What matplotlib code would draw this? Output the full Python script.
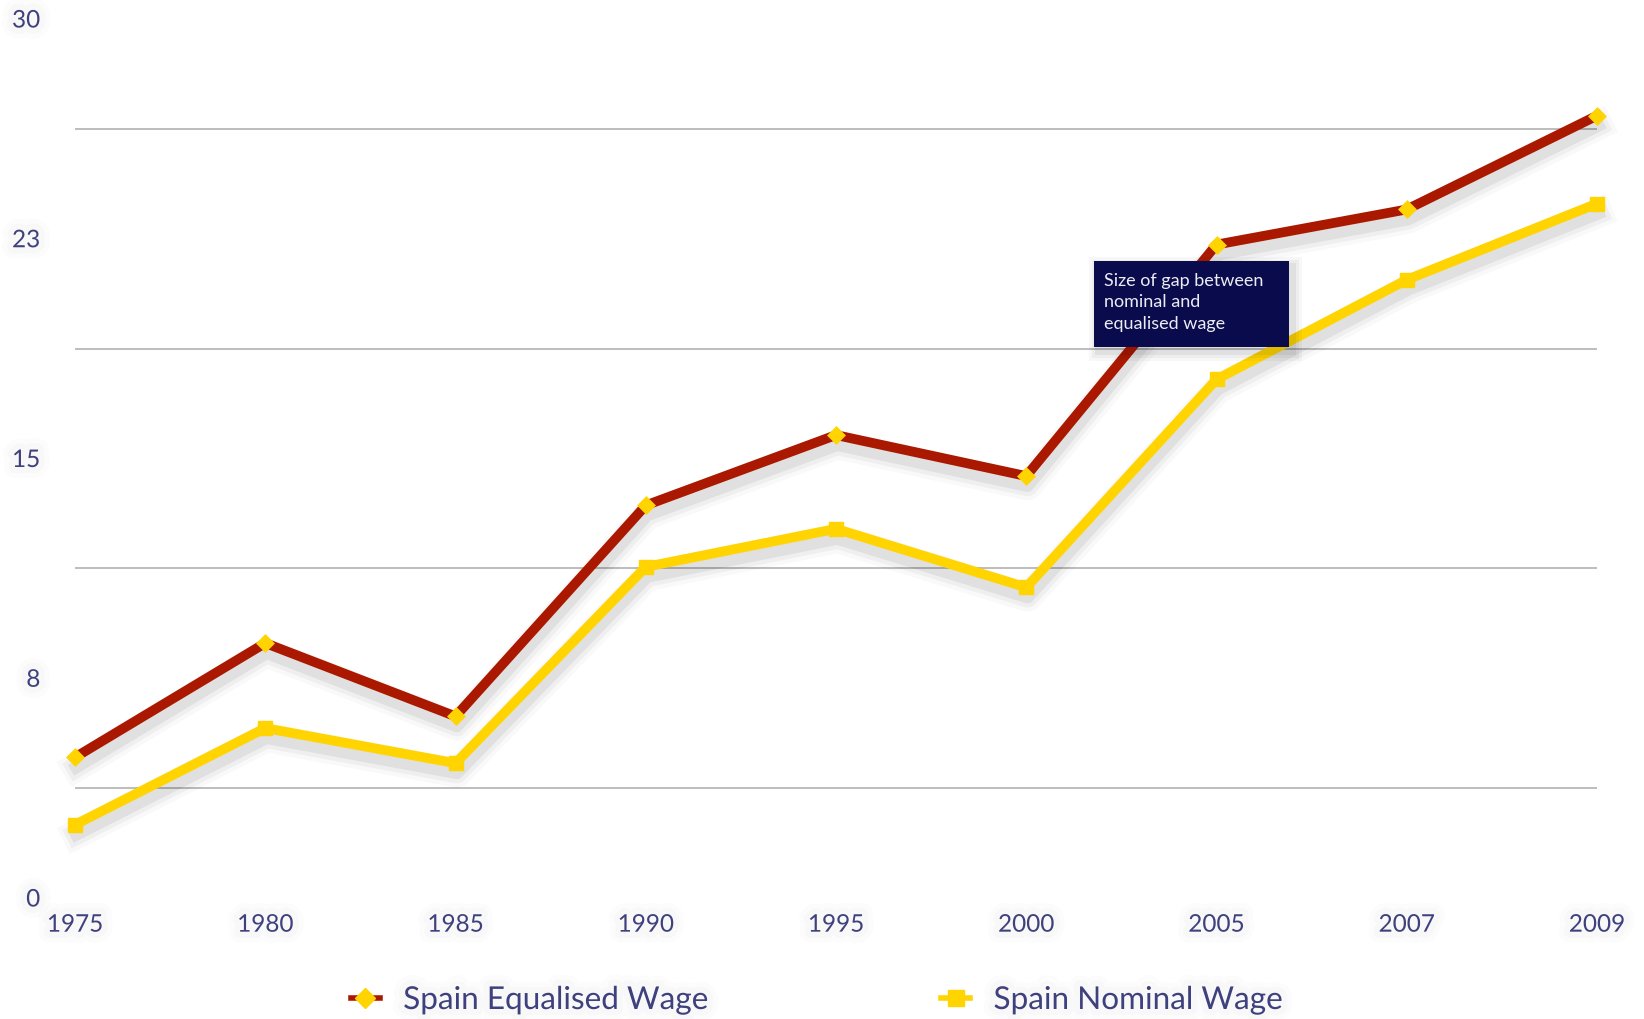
import matplotlib
matplotlib.use("Agg")
import matplotlib.pyplot as plt
import matplotlib.patheffects as pe
from matplotlib.lines import Line2D
from matplotlib.patches import Rectangle

# ---- data ----
years = ["1975", "1980", "1985", "1990", "1995", "2000", "2005", "2007", "2009"]
equalised_wage = [4.8, 8.7, 6.2, 13.4, 15.8, 14.4, 22.3, 23.5, 26.7]
nominal_wage = [2.5, 5.8, 4.6, 11.3, 12.6, 10.6, 17.7, 21.1, 23.7]
y_tick_values = [0, 7.5, 15, 22.5, 30]
y_tick_labels = ["0", "8", "15", "23", "30"]
grid_values = [3.75, 11.25, 18.75, 26.25]
series_names = ["Spain Equalised Wage", "Spain Nominal Wage"]
tooltip_text = "Size of gap between\nnominal and\nequalised wage"

RED = "#AA1800"
YELLOW = "#FFD400"
TXT = "#3e417d"
FONT = ["Lato", "DejaVu Sans"]

plt.rcParams["font.family"] = FONT

W, H = 1644, 1019
fig = plt.figure(figsize=(W / 100, H / 100), dpi=100)
fig.patch.set_facecolor("white")
ax = fig.add_axes([75 / W, (H - 898) / H, 1522 / W, 879 / H])
ax.set_xlim(0, len(years) - 1)
ax.set_ylim(0, 30)
for s in ax.spines.values():
    s.set_visible(False)

x = list(range(len(years)))

def shadow(lw):
    return [
        pe.Stroke(offset=(1, -7), linewidth=lw + 14, foreground="black", alpha=0.025),
        pe.Stroke(offset=(1, -7), linewidth=lw + 8, foreground="black", alpha=0.04),
        pe.Stroke(offset=(1, -7), linewidth=lw + 2, foreground="black", alpha=0.06),
        pe.Normal(),
    ]

LW = 7
ax.plot(x, nominal_wage, color=YELLOW, lw=LW, clip_on=False, zorder=3,
        path_effects=shadow(LW))
ax.plot(x, equalised_wage, color=RED, lw=LW, clip_on=False, zorder=4,
        path_effects=shadow(LW))
ax.plot(x, nominal_wage, ls="none", marker="s", ms=9.5, mfc=YELLOW, mec=YELLOW,
        clip_on=False, zorder=5)
ax.plot(x, equalised_wage, ls="none", marker="D", ms=7.5, mfc=YELLOW, mec=YELLOW,
        mew=2.5, clip_on=False, zorder=6)

glow = [pe.Stroke(linewidth=16, foreground="black", alpha=0.012),
        pe.Stroke(linewidth=9, foreground="black", alpha=0.015),
        pe.Normal()]

ax.set_xticks(x)
ax.set_xticklabels(years, fontsize=17.5, color=TXT)
ax.set_yticks(y_tick_values)
ax.set_yticklabels(y_tick_labels, fontsize=17.5, color=TXT)
ax.set_yticks(grid_values, minor=True)
ax.tick_params(axis="both", which="both", length=0)
ax.tick_params(axis="x", pad=12)
ax.tick_params(axis="y", pad=25)
for lab in ax.get_xticklabels() + ax.get_yticklabels():
    lab.set_path_effects(glow)
ax.grid(axis="y", which="minor", color="#b8b8b8", lw=1.3, zorder=1)
ax.grid(axis="y", which="major", visible=False)
ax.grid(axis="x", visible=False)

# tooltip box
bx0, by0, bw, bh = 1094 / W, (H - 347) / H, 195 / W, 86 / H
for i, a in enumerate([0.03, 0.04, 0.05]):
    d = (3 - i) * 3
    fig.add_artist(Rectangle((bx0 - d / W + 4 / W, by0 - d / H - 5 / H), bw + 2 * d / W, bh + 2 * d / H,
                             transform=fig.transFigure, facecolor="black", alpha=a,
                             edgecolor="none", zorder=9))
fig.add_artist(Rectangle((bx0, by0), bw, bh, transform=fig.transFigure,
                         facecolor="#0a0b4c", edgecolor="none", zorder=10))
fig.text(1104 / W, (H - 273) / H, tooltip_text, color="#ececf4", fontsize=13,
         va="top", ha="left", linespacing=1.42, zorder=11)

# legend
handles = [
    Line2D([], [], color=RED, lw=4, marker="D", ms=10, mfc=YELLOW, mec=YELLOW),
    Line2D([], [], color=YELLOW, lw=4, marker="s", ms=11, mfc=YELLOW, mec=YELLOW),
]
leg = fig.legend(handles, series_names, loc="center", bbox_to_anchor=(817 / W, (H - 1000) / H),
                 ncol=2, frameon=False, fontsize=22.7, handlelength=0.9, handletextpad=0.75,
                 columnspacing=7.4, labelcolor=TXT)
for t in leg.get_texts():
    t.set_path_effects(glow)

fig.savefig("out.png", dpi=100)
